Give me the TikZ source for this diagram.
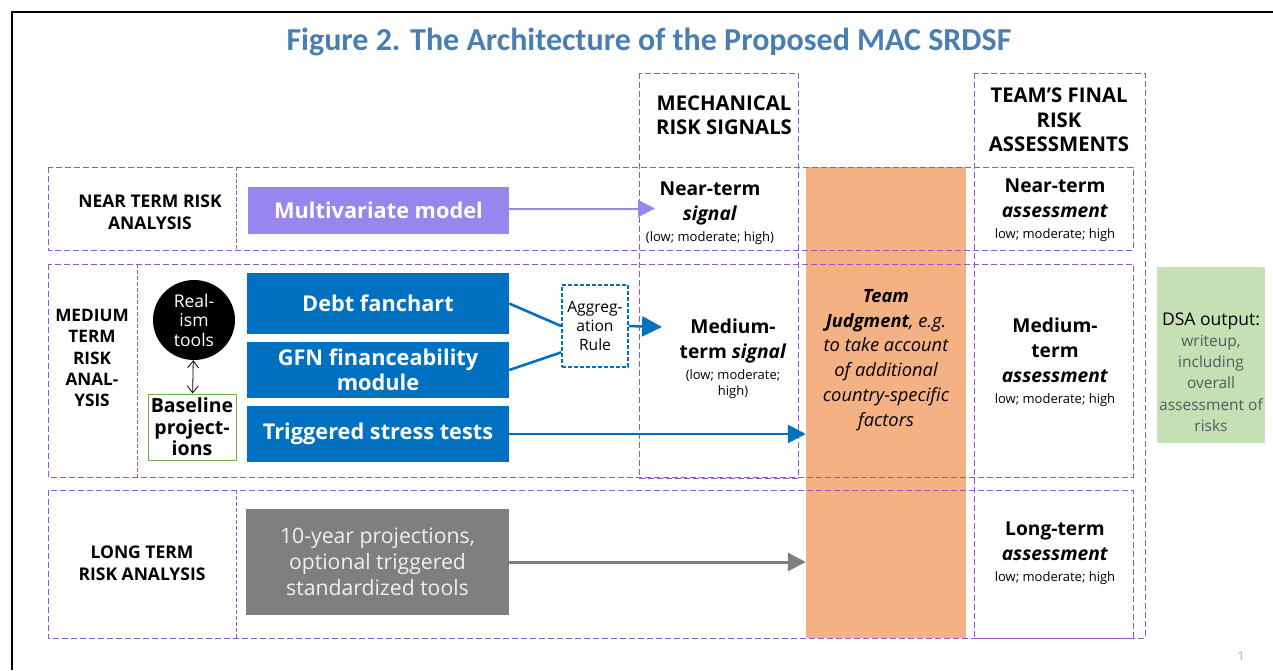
\documentclass[tikz,border=0pt]{standalone}
\usepackage{fontspec}
\setmainfont{Open Sans}
\newfontfamily\titlefont{Carlito}
\usetikzlibrary{arrows.meta,positioning,calc,shapes.geometric}
\definecolor{titleblue}{HTML}{4A7EB3}
\definecolor{lilac}{HTML}{9985EE}
\definecolor{imfblue}{HTML}{0070C0}
\definecolor{dashpurple}{HTML}{9457C8}
\definecolor{judgeorange}{HTML}{F4B183}
\definecolor{outgreen}{HTML}{C5E0B4}
\definecolor{basegreen}{HTML}{70AD47}
\definecolor{slate}{HTML}{7F7F7F}
\definecolor{softgrey}{HTML}{595959}
\newcommand\fsz[2]{\fontsize{#1}{#2}\selectfont}
\newcommand\lmh[1]{{\mdseries\fsz{13}{15}#1}}

\begin{document}
\begin{tikzpicture}[x=1pt,y=-1pt,
 grp/.style={draw=dashpurple,dash pattern=on 6pt off 3pt,line width=1pt},
 sep/.style={draw=dashpurple,dash pattern=on 4pt off 2pt,line width=0.6pt},
 blk/.style={fill=imfblue,text=white,font=\bfseries\fsz{21.75}{26},
 minimum width=262pt,inner sep=0pt,align=center},
 lbl/.style={font=\bfseries\fsz{17.5}{22},align=center},
 hdr/.style={font=\bfseries\fsz{20.3}{24.5},align=center},
 sig/.style={font=\bfseries\fsz{19.2}{25},align=center},
 arr/.style={-{Triangle[length=18pt,width=18pt]},line width=2.6pt}]
 \useasboundingbox (0,0) rectangle (1273,670);
 \draw[line width=1.6pt] (12,670) -- (12,12) -- (1273,12);
 \node[font=\titlefont\bfseries\fsz{32}{36},text=titleblue] (title) at (649,42)
 {Figure 2. The Architecture of the Proposed MAC SRDSF};

 % judgment column and output
 \node[fill=judgeorange,minimum width=160pt,minimum height=471pt,inner sep=0pt]
 (orange) at (886,402.5) {};
 \node[fill=outgreen,minimum width=108pt,minimum height=176pt,inner sep=0pt] (dsa)
 at (1211,355) {};
 \node[align=center,font=\fsz{15.5}{21.3},text=softgrey] (dsatext) at (1211,372)
 {\textcolor{black}{\fsz{17.5}{21.3}DSA output:}\\writeup,\\including\\overall\\assessment of\\risks};

 % frames
 \draw[grp,line width=0.8pt] (639,73) rectangle (798,478);
 \draw[grp,line width=0.8pt] (974,73) rectangle (1145,638);
 \draw[grp] (48,167) rectangle (1133,250);
 \draw[grp] (48,264) rectangle (1133,477);
 \draw[grp] (48,490) rectangle (1133,638);
 \draw[sep] (236,167) -- (236,250);
 \draw[sep] (137,264) -- (137,477);
 \draw[sep] (236,490) -- (236,638);

 % row and column headings
 \node[lbl] (nearlbl) at (150,212) {NEAR TERM RISK\\ANALYSIS};
 \node[lbl,font=\bfseries\fsz{17.2}{21.2}] (medlbl) at (92,358)
 {MEDIUM\\TERM\\RISK\\ANAL-\\YSIS};
 \node[lbl] (longlbl) at (142,563) {LONG TERM\\RISK ANALYSIS};
 \node[hdr] (mechhdr) at (724,115) {MECHANICAL\\RISK SIGNALS};
 \node[hdr] (teamhdr) at (1059,120) {TEAM'S FINAL\\RISK\\ASSESSMENTS};

 % tools
 \node[fill=lilac,text=white,font=\bfseries\fsz{21.75}{26},minimum width=261pt,
 minimum height=47pt,inner sep=0pt] (multi) at (378.5,210.5) {Multivariate model};
 \node[blk,minimum height=61pt] (debt) at (378,303.5) {Debt fanchart};
 \node[blk,minimum height=56pt,font=\bfseries\fsz{21.75}{25.5}] (gfn) at (378,370)
 {GFN financeability\\module};
 \node[blk,minimum height=56pt] (stress) at (378,434) {Triggered stress tests};
 \node[fill=slate,text=white!94!black,font=\fsz{21.2}{26},align=center,
 minimum width=263pt,minimum height=106pt,inner sep=0pt] (tenyr) at (377.5,562)
 {10-year projections,\\optional triggered\\standardized tools};
 \node[ellipse,fill=black,text=white,font=\fsz{17.5}{19.5},align=center,
 minimum width=82pt,minimum height=80pt,inner sep=0pt] (realism) at (194,320)
 {Real-\\ism\\tools};
 \node[draw=basegreen,line width=1pt,font=\bfseries\fsz{19.5}{21.5},align=center,
 minimum width=88pt,minimum height=66pt,inner sep=0pt] (base) at (192,427)
 {Baseline\\project-\\ions};
 \node[draw=imfblue,dash pattern=on 4pt off 2pt,line width=1.8pt,font=\fsz{15.6}{19},
 align=center,minimum width=66pt,minimum height=82pt,inner sep=0pt] (agg) at (595,326)
 {Aggreg-\\ation\\Rule};

 % signals and assessments
 \node[sig] (nearsig) at (710,213)
 {Near-term\\\textit{signal}\\[-4pt]\lmh{(low; moderate; high)}};
 \node[sig] (medsig) at (733,359)
 {Medium-\\term \textit{signal}\\[-4pt]\lmh{(low; moderate;}\\[-9pt]\lmh{high)}};
 \node[font=\itshape\fsz{18.3}{24.8},align=center] (judge) at (886,360)
 {\textbf{Team}\\\textbf{Judgment}, e.g.\\to take account\\of additional\\country-specific\\factors};
 \node[sig] (nearass) at (1055,210)
 {Near-term\\\textit{assessment}\\[-4pt]\lmh{low; moderate; high}};
 \node[sig] (medass) at (1055,362)
 {Medium-\\term\\\textit{assessment}\\[-4pt]\lmh{low; moderate; high}};
 \node[sig] (longass) at (1055,553)
 {Long-term\\\textit{assessment}\\[-4pt]\lmh{low; moderate; high}};
 \node[text=slate!70,font=\fsz{12}{14}] (pageno) at (1241,656) {1};

 % connectors
 \coordinate (nearin) at (655,208.5);
 \coordinate (medin) at (662,327);
 \draw[arr,draw=lilac,line width=2pt,-{Triangle[length=17pt,width=17pt]}]
 (multi.east |- nearin) -- (nearin);
 \draw[imfblue,line width=2.6pt] (debt.east) -- (agg.west);
 \draw[imfblue,line width=2.6pt] (gfn.east) -- ($(agg.west)!0.63!(agg.south west)$);
 \draw[arr,draw=imfblue,-{Triangle[length=20pt,width=20pt]}] (agg.east) -- (medin);
 \draw[arr,draw=imfblue] (stress.east) -- (stress.east -| orange.west);
 \draw[arr,draw=slate,line width=3pt] (tenyr.east) -- (tenyr.east -| orange.west);
 \draw[{Straight Barb[length=7pt,width=11pt]}-{Straight Barb[length=7pt,width=11pt]},
 line width=0.8pt] (realism) -- (base);
\end{tikzpicture}
\end{document}
